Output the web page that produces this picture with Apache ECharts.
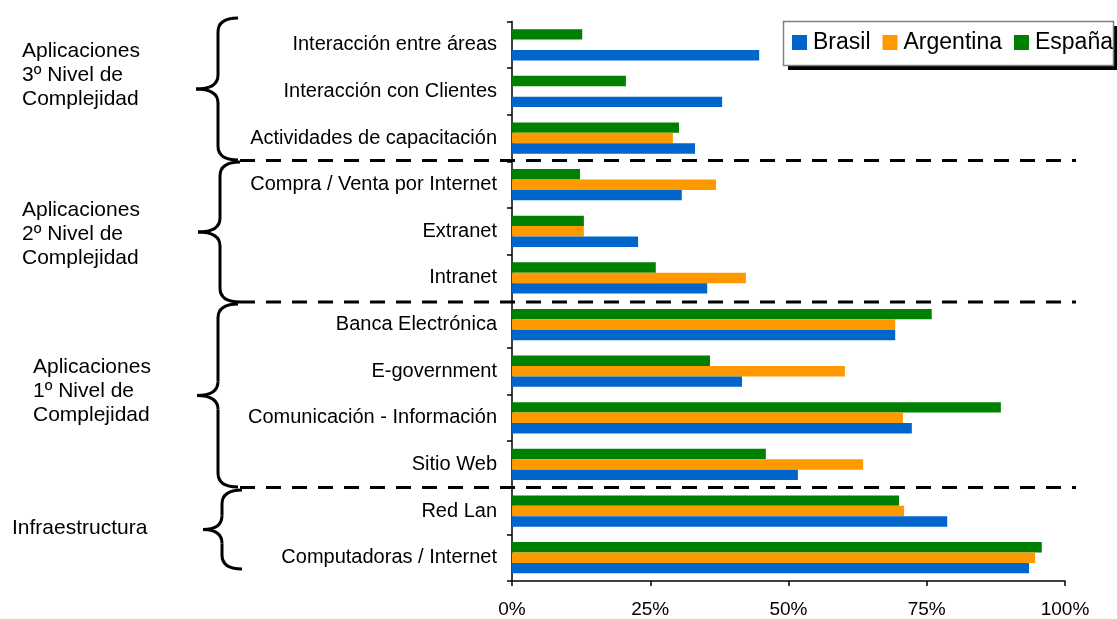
<!DOCTYPE html>
<html>
<head>
<meta charset="utf-8" />
<title></title>
<script type="text/javascript" src="https://cdn.jsdelivr.net/npm/echarts@6/dist/echarts.min.js"></script>
<style>
  html, body { margin: 0; padding: 0; background: #fff; }
</style>
</head>
<body>
<div id="chart" style="width: 1117px; height: 619px;"></div>
<script type="text/javascript">
// categorias de arriba hacia abajo
var categorias = [
  "Interacción entre áreas",
  "Interacción con Clientes",
  "Actividades de capacitación",
  "Compra / Venta por Internet",
  "Extranet",
  "Intranet",
  "Banca Electrónica",
  "E-government",
  "Comunicación - Información",
  "Sitio Web",
  "Red Lan",
  "Computadoras / Internet"
];
var brasil    = [44.7, 38.0, 33.1, 30.7, 22.8, 35.3, 69.3, 41.6, 72.3, 51.7, 78.7, 93.5];
var argentina = [null, null, 29.1, 36.9, 13.0, 42.3, 69.3, 60.2, 70.7, 63.5, 70.9, 94.6];
var espana    = [12.7, 20.6, 30.2, 12.3, 13.0, 26.0, 75.9, 35.8, 88.4, 45.9, 70.0, 95.8];
var ticksX = [0, 25, 50, 75, 100];

var grupos = [
  { texto: "Aplicaciones\n3º Nivel de\nComplejidad", x: 22, y: 75 },
  { texto: "Aplicaciones\n2º Nivel de\nComplejidad", x: 22, y: 234 },
  { texto: "Aplicaciones\n1º Nivel de\nComplejidad", x: 33, y: 391 },
  { texto: "Infraestructura", x: 12, y: 528 }
];

var font = "Liberation Sans, Arial, sans-serif";
var chart = echarts.init(document.getElementById("chart"));

// el eje de categorias de ECharts va de abajo hacia arriba
var rev = function (a) { return a.slice().reverse(); };

var trazo = { stroke: "#000", lineWidth: 3, fill: null };

// llave { para los grupos, hecha con curvas y lineas
function llave(xTip, xv, xEnd, top, bottom) {
  var mid = (top + bottom) / 2, r = 14;
  var curva = function (x1, y1, cx, cy, x2, y2) {
    return { type: "bezierCurve", shape: { x1: x1, y1: y1, cpx1: cx, cpy1: cy, x2: x2, y2: y2 }, style: trazo };
  };
  var recta = function (y1, y2) {
    return { type: "line", shape: { x1: xv, y1: y1, x2: xv, y2: y2 }, style: trazo };
  };
  return [
    curva(xEnd, top, xv, top, xv, top + r),
    recta(top + r, mid - r),
    curva(xv, mid - r, xv, mid, xTip, mid),
    curva(xTip, mid, xv, mid, xv, mid + r),
    recta(mid + r, bottom - r),
    curva(xv, bottom - r, xv, bottom, xEnd, bottom)
  ];
}

// caja de la leyenda con sombra negra
var graficos = [
  { type: "rect", z: 0, shape: { x: 788, y: 26, width: 331, height: 44 }, style: { fill: "#000" } },
  { type: "rect", z: 1, shape: { x: 783.5, y: 21.5, width: 330, height: 44 }, style: { fill: "#fff", stroke: "#808080", lineWidth: 1.5 } }
];
[[196, 218, 238, 18, 160], [198, 220, 240, 162, 302], [197, 218, 238, 304, 487], [203, 222, 242, 490, 569]].forEach(function (b) {
  graficos = graficos.concat(llave(b[0], b[1], b[2], b[3], b[4]));
});
[160.5, 302, 487.5].forEach(function (y) {
  graficos.push({
    type: "line",
    shape: { x1: 240, y1: y, x2: 1076, y2: y },
    style: { stroke: "#000", lineWidth: 3, lineDash: [15, 11] },
    z: 10
  });
});
grupos.forEach(function (g) {
  graficos.push({
    type: "text",
    left: g.x,
    top: g.y - (g.texto.split("\n").length * 24) / 2,
    style: { text: g.texto, font: "21px " + font, fill: "#000", lineHeight: 24 }
  });
});

chart.setOption({
  backgroundColor: "#fff",
  animation: false,
  textStyle: { fontFamily: font },
  grid: { left: 512, right: 52, top: 21.5, bottom: 38, containLabel: false },
  legend: {
    left: 792,
    top: 31,
    z: 20,
    padding: 0,
    itemGap: 12,
    itemWidth: 15,
    itemHeight: 15,
    icon: "rect",
    textStyle: { fontSize: 23, color: "#000", fontFamily: font, padding: [0, 0, 0, 1] },
    data: ["Brasil", "Argentina", "España"]
  },
  xAxis: {
    type: "value",
    min: 0,
    max: 100,
    interval: 25,
    splitLine: { show: false },
    axisLine: { show: true, lineStyle: { color: "#000", width: 1.5 } },
    axisTick: { show: true, length: 5, lineStyle: { color: "#000", width: 1.5 } },
    axisLabel: {
      color: "#000", fontSize: 19, margin: 19,
      formatter: function (v) { return ticksX.indexOf(v) >= 0 ? v + "%" : ""; }
    }
  },
  yAxis: {
    type: "category",
    data: rev(categorias),
    axisLine: { show: true, lineStyle: { color: "#000", width: 1.5 } },
    axisTick: { show: true, length: 5, lineStyle: { color: "#000", width: 1.5 } },
    axisLabel: { color: "#000", fontSize: 20, margin: 15 }
  },
  series: [
    { name: "España", type: "bar", data: rev(espana), itemStyle: { color: "#008000" }, barGap: "0%", barCategoryGap: "33%" },
    { name: "Argentina", type: "bar", data: rev(argentina), itemStyle: { color: "#FF9900" }, barGap: "0%", barCategoryGap: "33%" },
    { name: "Brasil", type: "bar", data: rev(brasil), itemStyle: { color: "#0066CC" }, barGap: "0%", barCategoryGap: "33%" }
  ],
  graphic: graficos
});
</script>
</body>
</html>
